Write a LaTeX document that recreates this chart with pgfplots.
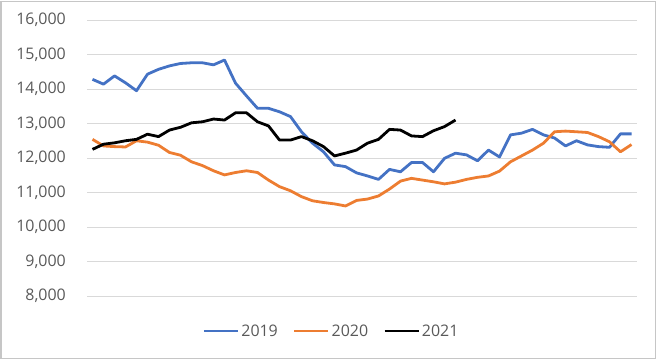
\documentclass[border=0pt]{standalone}
\usepackage{pgfplots}
\pgfplotsset{compat=1.18}
\usepackage{fontspec}
\setmainfont{Open Sans}
\definecolor{c19}{HTML}{4472C4}
\definecolor{c20}{HTML}{ED7D31}
\definecolor{txt}{HTML}{595959}
\definecolor{gridc}{HTML}{D9D9D9}

\pgfplotstableread{
x y
0 14280
1 14140
2 14380
3 14180
4 13950
5 14430
6 14570
7 14670
8 14740
9 14760
10 14760
11 14700
12 14840
13 14170
14 13800
15 13440
16 13440
17 13340
18 13200
19 12760
20 12430
21 12180
22 11800
23 11750
24 11570
25 11480
26 11380
27 11670
28 11600
29 11870
30 11870
31 11600
32 11990
33 12140
34 12090
35 11920
36 12230
37 12030
38 12670
39 12720
40 12830
41 12670
42 12580
43 12350
44 12500
45 12380
46 12330
47 12310
48 12700
49 12700
}\dataA

\pgfplotstableread{
x y
0 12540
1 12350
2 12330
3 12320
4 12500
5 12460
6 12370
7 12160
8 12080
9 11890
10 11780
11 11630
12 11510
13 11580
14 11630
15 11580
16 11360
17 11170
18 11050
19 10880
20 10760
21 10710
22 10670
23 10610
24 10770
25 10810
26 10900
27 11100
28 11330
29 11410
30 11360
31 11310
32 11250
33 11300
34 11380
35 11440
36 11480
37 11620
38 11890
39 12060
40 12230
41 12430
42 12760
43 12780
44 12760
45 12740
46 12620
47 12470
48 12180
49 12390
}\dataB

\pgfplotstableread{
x y
0 12250
1 12400
2 12440
3 12500
4 12540
5 12690
6 12620
7 12810
8 12890
9 13020
10 13050
11 13130
12 13100
13 13310
14 13310
15 13050
16 12930
17 12520
18 12520
19 12620
20 12500
21 12330
22 12060
23 12140
24 12230
25 12430
26 12540
27 12830
28 12810
29 12640
30 12620
31 12790
32 12910
33 13100
}\dataC

\begin{document}
\begin{tikzpicture}[x=1bp,y=1bp]
\useasboundingbox (0,0) rectangle (660,360);
\draw[gray!45, line width=1.5bp] (1,1.5) rectangle (655.5,358.5);
\begin{axis}[
  at={(87bp,64bp)}, anchor=south west,
  scale only axis, width=550bp, height=276bp,
  xmin=-0.5, xmax=49.5, ymin=8000, ymax=16000,
  ytick={8000,9000,...,16000}, xtick=\empty,
  scaled y ticks=false,
  axis line style={draw=none},
  ymajorgrids, major grid style={draw=gridc, line width=0.9bp},
  major tick length=0pt,
  yticklabel style={font=\fontsize{16}{16}\selectfont, text=txt, anchor=east, inner sep=0pt, xshift=-21bp},
  clip=false,
  legend columns=3,
  legend style={at={(0.4445,-0.127)}, anchor=center, draw=none, fill=none,
    font=\fontsize{16}{16}\selectfont, text=txt,
    nodes={inner sep=2bp},
    /tikz/every even column/.append style={column sep=13bp}},
  legend image code/.code={\draw[#1, line width=2.8bp] (0bp,0bp) -- (34bp,0bp);},
  /pgf/number format/assume math mode=true,
  /pgf/number format/fixed,
  /pgf/number format/1000 sep={,},
]
\addplot[c19, line width=2.8bp, line join=round] table[x=x,y=y] {\dataA};
\addlegendentry{2019}
\addplot[c20, line width=2.8bp, line join=round] table[x=x,y=y] {\dataB};
\addlegendentry{2020}
\addplot[black, line width=2.8bp, line join=round] table[x=x,y=y] {\dataC};
\addlegendentry{2021}
\end{axis}
\end{tikzpicture}
\end{document}
